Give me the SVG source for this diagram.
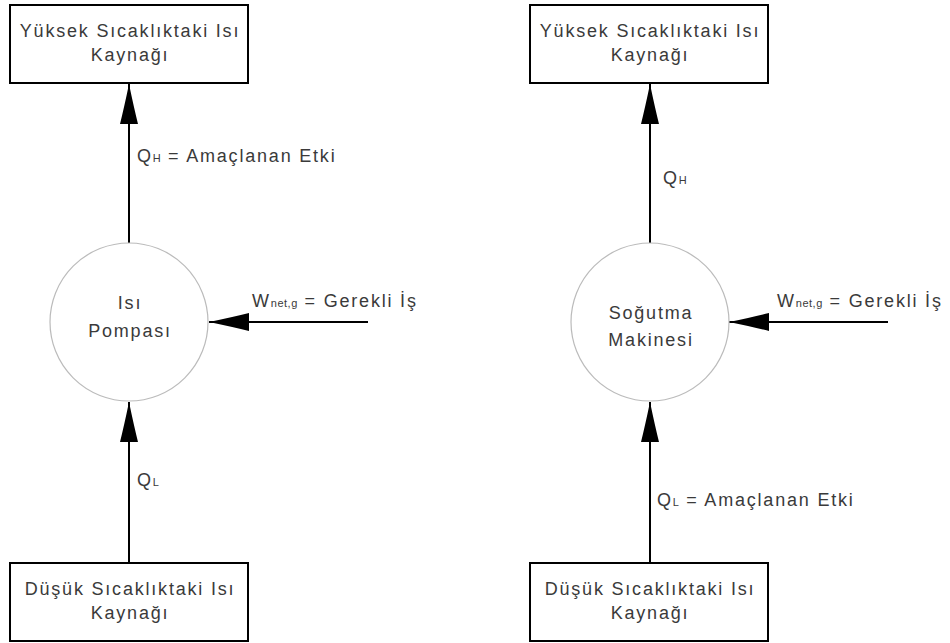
<svg xmlns="http://www.w3.org/2000/svg" width="950" height="643" viewBox="0 0 950 643">
<defs>
<marker id="ah" viewBox="0 0 40 18" refX="40" refY="9" markerWidth="40" markerHeight="18" markerUnits="userSpaceOnUse" orient="auto">
<path d="M40,9 Q16,4 0,0 L0,18 Q16,14 40,9 Z" fill="#000"/>
</marker>
</defs>
<style>
.box{fill:#fff;stroke:#000;stroke-width:2}
.circ{fill:#fff;stroke:#bbb;stroke-width:1.2}
.t{font-family:"Liberation Sans",Arial,sans-serif;font-size:18px;letter-spacing:1.8px;fill:#3a3a3a;text-anchor:middle}
.l{font-family:"Liberation Sans",Arial,sans-serif;font-size:18px;letter-spacing:1.8px;fill:#3a3a3a}
.s{font-size:11px;letter-spacing:0.5px}
.c{stroke:#000;stroke-width:2;fill:none}
</style>
<rect width="950" height="643" fill="#fff"/>
<g id="connectors">
<line class="c" x1="129" y1="243" x2="129" y2="84" marker-end="url(#ah)"/>
<line class="c" x1="129" y1="563" x2="129" y2="402" marker-end="url(#ah)"/>
<line class="c" x1="368" y1="322" x2="209" y2="322" marker-end="url(#ah)"/>
<line class="c" x1="650" y1="243" x2="650" y2="84" marker-end="url(#ah)"/>
<line class="c" x1="650" y1="563" x2="650" y2="402" marker-end="url(#ah)"/>
<line class="c" x1="888" y1="322" x2="729" y2="322" marker-end="url(#ah)"/>
</g>
<g id="hot1"><rect class="box" x="10" y="5" width="238" height="78"/><text class="t" x="130" y="37">Yüksek Sıcaklıktaki Isı</text><text class="t" x="130" y="61">Kaynağı</text></g>
<g id="cold1"><rect class="box" x="10" y="563" width="238" height="78"/><text class="t" x="130" y="595">Düşük Sıcaklıktaki Isı</text><text class="t" x="130" y="619">Kaynağı</text></g>
<g id="pump"><circle class="circ" cx="129" cy="322" r="79"/><text class="t" x="130" y="309">Isı</text><text class="t" x="130" y="337">Pompası</text></g>
<g id="hot2"><rect class="box" x="530" y="5" width="238" height="78"/><text class="t" x="650" y="37">Yüksek Sıcaklıktaki Isı</text><text class="t" x="650" y="61">Kaynağı</text></g>
<g id="cold2"><rect class="box" x="530" y="563" width="238" height="78"/><text class="t" x="650" y="595">Düşük Sıcaklıktaki Isı</text><text class="t" x="650" y="619">Kaynağı</text></g>
<g id="fridge"><circle class="circ" cx="650" cy="322" r="79"/><text class="t" x="651" y="319">Soğutma</text><text class="t" x="651" y="346">Makinesi</text></g>
<g id="labels">
<text class="l" x="137" y="162">Q<tspan class="s">H</tspan> = Amaçlanan Etki</text>
<text class="l" x="137" y="486">Q<tspan class="s">L</tspan></text>
<text class="l" x="252" y="307">W<tspan class="s">net,g</tspan> = Gerekli İş</text>
<text class="l" x="663" y="184">Q<tspan class="s">H</tspan></text>
<text class="l" x="657" y="506">Q<tspan class="s">L</tspan> = Amaçlanan Etki</text>
<text class="l" x="777" y="307">W<tspan class="s">net,g</tspan> = Gerekli İş</text>
</g>
</svg>
